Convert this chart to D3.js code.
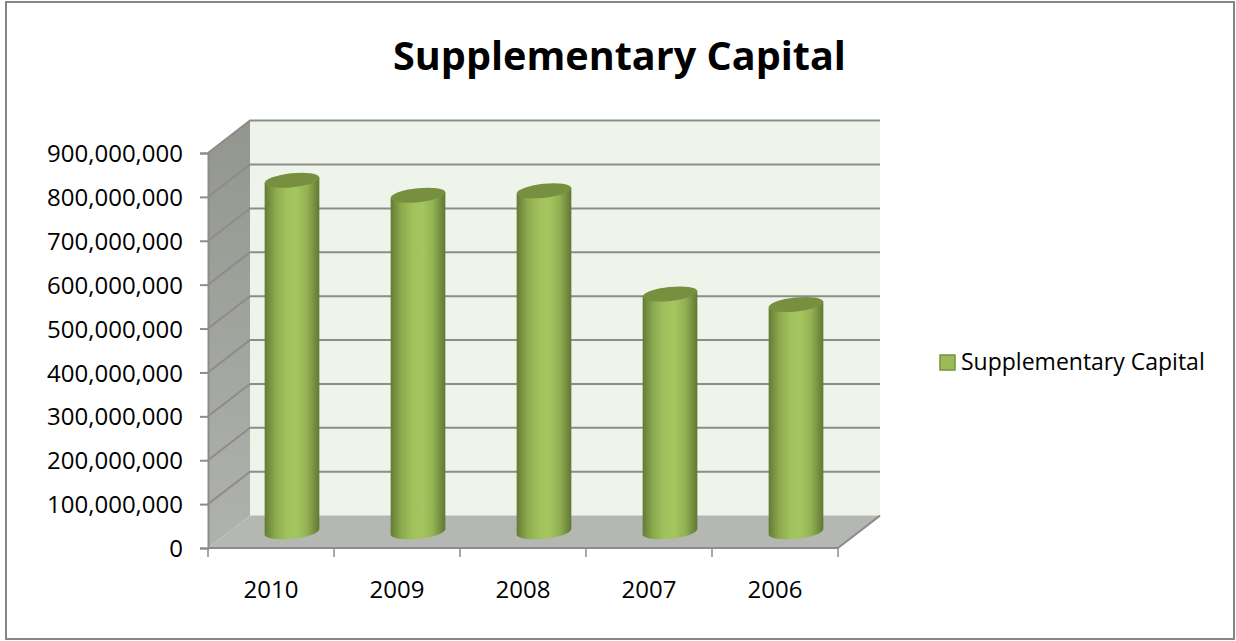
<!DOCTYPE html>
<html>
<head>
<meta charset="utf-8">
<script src="https://cdn.jsdelivr.net/npm/d3@7"></script>
<style>
html, body { margin: 0; padding: 0; background: #fff; }
svg { display: block; }
text { font-family: "Open Sans", Lato, sans-serif; fill: #000; }
</style>
</head>
<body>
<svg id="chart" width="1236" height="641"></svg>
<script>
const years = ["2010", "2009", "2008", "2007", "2006"];
const capital = [801000000, 767000000, 777000000, 542000000, 518000000];
const tickValues = [0, 100000000, 200000000, 300000000, 400000000, 500000000, 600000000, 700000000, 800000000, 900000000];
const seriesName = "Supplementary Capital";

const svg = d3.select("#chart");
const depth = { x: 42, y: -32.4 };
const y = d3.scaleLinear().domain([0, 900000000]).range([548, 153]);
const x = d3.scaleBand().domain(years).range([208, 838]);
const defs = svg.append("defs");

// Horizontal shading that gives the columns their rounded look
const shade = defs.append("linearGradient").attr("id", "cyl");
[[0, "#637b35"], [0.06, "#6f8a3c"], [0.2, "#8dab4f"], [0.4, "#a0c15c"], [0.58, "#a4c65f"], [0.78, "#93b152"], [0.93, "#6f8a3c"], [1, "#607833"]]
  .forEach(([o, c]) => shade.append("stop").attr("offset", o).attr("stop-color", c));

// Chart frame
svg.append("rect").attr("x", 6).attr("y", 2).attr("width", 1228).attr("height", 637)
  .attr("fill", "#fff").attr("stroke", "#868686").attr("stroke-width", 2);

// Title
svg.append("text").attr("x", 619.5).attr("y", 70).attr("text-anchor", "middle")
  .attr("font-size", 39.6).attr("font-weight", 700).text(seriesName);

const left = x.range()[0], right = x.range()[1];
const y0 = y(0), yTop = y(900000000);

// Back wall, side wall and floor
svg.append("path").attr("fill", "#eff4ea")
  .attr("d", d3.line()([[left + depth.x, y0 + depth.y], [left + depth.x, yTop + depth.y], [right + depth.x, yTop + depth.y], [right + depth.x, y0 + depth.y]]));
const sideWall = defs.append("linearGradient").attr("id", "side").attr("x1", 0).attr("x2", 0).attr("y1", 0).attr("y2", 1);
sideWall.append("stop").attr("offset", 0).attr("stop-color", "#93958f");
sideWall.append("stop").attr("offset", 1).attr("stop-color", "#b0b2ad");
svg.append("path").attr("fill", "url(#side)")
  .attr("d", d3.line()([[left, y0], [left, yTop], [left + depth.x, yTop + depth.y], [left + depth.x, y0 + depth.y]]) + "Z");
svg.append("path").attr("fill", "#b5b7b2")
  .attr("d", d3.line()([[left, y0], [left + depth.x, y0 + depth.y], [right + depth.x, y0 + depth.y], [right, y0]]) + "Z");

// Gridlines wrap from the side wall onto the back wall
const gridColor = "#8c8c8c";
svg.append("g").selectAll("path").data(tickValues.slice(1)).join("path")
  .attr("fill", "none").attr("stroke", gridColor).attr("stroke-width", 2)
  .attr("d", d => d3.line()([[left, y(d)], [left + depth.x, y(d) + depth.y], [right + depth.x, y(d) + depth.y]]));

// Value axis
const yAxis = svg.append("g").attr("transform", `translate(${left},0)`)
  .call(d3.axisLeft(y).tickValues(tickValues).tickFormat(d3.format(",")).tickSize(8).tickPadding(17));
yAxis.select(".domain").attr("stroke", gridColor).attr("stroke-width", 2);
yAxis.selectAll(".tick line").attr("stroke", gridColor).attr("stroke-width", 2);
yAxis.selectAll("text").attr("font-size", 24).attr("font-family", "Open Sans").attr("dy", "0.36em");

// Category axis: tick marks sit on the band edges
const xAxisBase = svg.append("g");
xAxisBase.append("line").attr("x1", left).attr("x2", right).attr("y1", y0).attr("y2", y0)
  .attr("stroke", gridColor).attr("stroke-width", 2);
xAxisBase.selectAll("line.edge").data([...years.map(d => x(d)), right]).join("line").attr("class", "edge")
  .attr("x1", d => d).attr("x2", d => d).attr("y1", y0).attr("y2", y0 + 9)
  .attr("stroke", gridColor).attr("stroke-width", 1.5);
xAxisBase.append("line").attr("x1", right).attr("x2", right + depth.x).attr("y1", y0).attr("y2", y0 + depth.y)
  .attr("stroke", gridColor).attr("stroke-width", 2);
xAxisBase.selectAll("text").data(years).join("text")
  .attr("x", d => x(d) + x.bandwidth() / 2).attr("y", 598).attr("text-anchor", "middle")
  .attr("font-size", 24).text(d => d);

// Cylinders stand mid-depth on the floor
const radius = 27.5, capRy = 7, tilt = -6;
const bars = svg.append("g").selectAll("g").data(years.map((year, i) => ({ year, value: capital[i] }))).join("g")
  .attr("transform", d => `translate(${x(d.year) + x.bandwidth() / 2 + depth.x / 2},${depth.y / 2})`);
const dx = radius * Math.cos(tilt * Math.PI / 180), dy = radius * Math.sin(tilt * Math.PI / 180);
bars.append("path").attr("fill", "url(#cyl)")
  .attr("d", d => `M${-dx},${y(d.value) - dy}L${-dx},${y0 - dy}A${radius},${capRy} ${tilt} 0 0 ${dx},${y0 + dy}L${dx},${y(d.value) + dy}Z`);
bars.append("ellipse").attr("rx", radius).attr("ry", capRy).attr("fill", "#76903f")
  .attr("transform", d => `translate(0,${y(d.value)}) rotate(${tilt})`);

// Legend
const legend = svg.append("g");
legend.append("rect").attr("x", 940).attr("y", 355).attr("width", 15).attr("height", 15)
  .attr("fill", "#9bbb59").attr("stroke", "#77933c").attr("stroke-width", 1.5);
legend.append("text").attr("x", 961).attr("y", 370).attr("font-size", 23).text(seriesName);
</script>
</body>
</html>
